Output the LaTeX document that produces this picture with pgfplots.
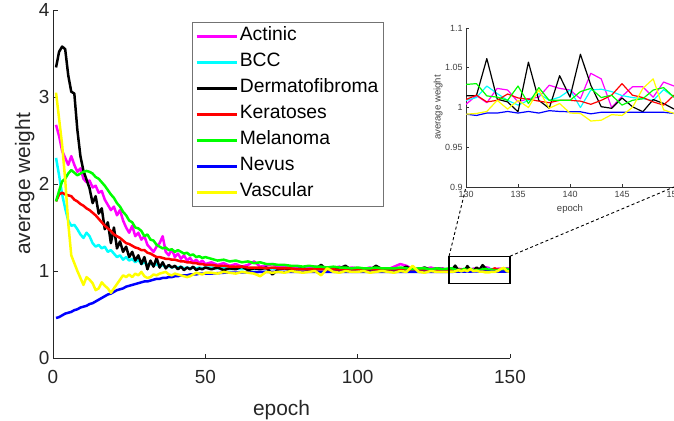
\documentclass[border=0pt]{standalone}
\usepackage{fontspec}
\setmainfont{Liberation Sans}
\usepackage{pgfplots}
\usepackage{pgfplotstable}
\pgfplotsset{compat=1.18}
\definecolor{axgray}{RGB}{38,38,38}
\definecolor{cMag}{RGB}{255,0,255}
\definecolor{cCya}{RGB}{0,255,255}
\definecolor{cBlk}{RGB}{0,0,0}
\definecolor{cRed}{RGB}{255,0,0}
\definecolor{cGrn}{RGB}{0,255,0}
\definecolor{cBlu}{RGB}{0,0,255}
\definecolor{cYel}{RGB}{255,255,0}

\pgfplotstableread{
ep act bcc der ker mel nev vas
1 2.68 2.30 3.34 1.80 1.80 0.46 3.05
2 2.55 2.10 3.52 1.88 1.92 0.47 2.75
3 2.38 1.88 3.58 1.90 2.03 0.49 2.45
4 2.30 1.72 3.55 1.88 2.06 0.51 2.05
5 2.22 1.58 3.25 1.87 2.12 0.52 1.55
6 2.32 1.52 3.06 1.86 2.16 0.53 1.18
7 2.22 1.53 3.04 1.82 2.13 0.55 1.09
8 2.14 1.48 2.62 1.80 2.10 0.56 1.00
9 2.18 1.42 2.32 1.77 2.12 0.58 0.92
10 2.06 1.38 2.15 1.75 2.14 0.59 0.84
11 2.02 1.44 2.05 1.72 2.15 0.60 0.93
12 2.04 1.40 1.95 1.70 2.14 0.62 0.90
13 1.96 1.32 1.78 1.67 2.12 0.63 0.86
14 1.98 1.28 1.86 1.64 2.08 0.65 0.78
15 1.90 1.30 1.66 1.60 2.06 0.67 0.80
16 1.92 1.26 1.72 1.56 2.02 0.69 0.87
17 1.82 1.28 1.48 1.52 1.98 0.71 0.83
18 1.76 1.22 1.56 1.49 1.93 0.73 0.80
19 1.70 1.24 1.32 1.46 1.88 0.74 0.75
20 1.74 1.20 1.50 1.42 1.84 0.76 0.80
21 1.64 1.16 1.26 1.40 1.78 0.78 0.85
22 1.70 1.18 1.34 1.38 1.74 0.79 0.90
23 1.58 1.13 1.22 1.35 1.68 0.80 0.95
24 1.50 1.16 1.28 1.32 1.64 0.82 0.93
25 1.44 1.12 1.16 1.31 1.58 0.83 0.96
26 1.52 1.14 1.22 1.29 1.56 0.84 0.93
27 1.40 1.10 1.12 1.27 1.50 0.85 0.97
28 1.44 1.13 1.18 1.26 1.49 0.86 0.95
29 1.36 1.08 1.08 1.24 1.46 0.87 0.99
30 1.40 1.10 1.16 1.24 1.40 0.88 0.94
31 1.30 1.07 1.02 1.21 1.42 0.88 0.92
32 1.26 1.09 1.12 1.20 1.36 0.89 0.93
33 1.22 1.06 1.05 1.18 1.35 0.90 0.96
34 1.28 1.08 1.15 1.16 1.30 0.91 0.95
35 1.32 1.05 1.04 1.16 1.28 0.91 0.97
36 1.40 1.07 1.10 1.15 1.26 0.92 0.98
37 1.22 1.04 1.03 1.14 1.27 0.92 0.99
38 1.18 1.06 1.07 1.14 1.24 0.93 0.96
39 1.25 1.04 1.04 1.13 1.25 0.93 0.95
40 1.16 1.05 1.06 1.13 1.22 0.94 0.97
41 1.20 1.04 1.02 1.12 1.24 0.94 0.96
42 1.14 1.05 1.05 1.11 1.22 0.95 0.95
43 1.18 1.03 1.01 1.11 1.20 0.95 0.94
44 1.12 1.04 1.04 1.10 1.21 0.95 0.93
45 1.15 1.03 1.02 1.10 1.18 0.96 0.94
46 1.10 1.04 1.05 1.09 1.19 0.96 0.96
47 1.13 1.03 1.01 1.09 1.16 0.96 0.98
48 1.09 1.04 1.03 1.08 1.17 0.97 0.97
49 1.12 1.03 1.02 1.08 1.15 0.97 0.96
50 1.08 1.04 1.04 1.07 1.16 0.97 0.98
52 1.10 1.04 1.02 1.07 1.14 0.97 0.98
54 1.07 1.03 1.04 1.06 1.12 0.975 0.97
56 1.09 1.04 1.01 1.06 1.13 0.98 0.99
58 1.06 1.02 1.03 1.05 1.11 0.98 0.98
60 1.08 1.03 1.02 1.05 1.12 0.98 0.97
62 1.05 1.02 1.05 1.05 1.10 0.985 0.99
64 1.07 1.03 1.01 1.04 1.11 0.985 0.98
66 1.11 1.02 1.03 1.04 1.09 0.985 0.97
68 1.05 1.03 1.02 1.04 1.10 0.99 0.94
70 1.06 1.02 1.04 1.03 1.08 0.99 0.99
72 1.08 1.03 0.96 1.04 1.08 0.99 0.98
74 1.04 1.02 1.02 1.03 1.07 0.99 0.99
76 1.05 1.03 1.03 1.03 1.07 0.99 0.98
78 1.03 1.02 1.01 1.03 1.06 0.99 1.00
80 1.05 1.02 1.02 1.02 1.06 0.99 0.99
82 1.04 1.03 1.03 1.02 1.05 0.99 0.98
84 1.03 1.02 1.01 1.02 1.06 0.99 0.99
86 1.05 1.02 1.02 1.02 1.05 0.99 1.00
88 1.03 1.03 1.07 1.02 1.05 0.99 0.95
90 1.04 1.02 1.01 1.02 1.04 0.99 1.03
92 1.03 1.02 1.02 1.02 1.05 0.99 0.99
94 1.05 1.03 1.03 1.01 1.04 0.99 0.98
96 1.02 1.02 1.06 1.02 1.04 0.99 1.00
98 1.04 1.02 1.01 1.01 1.03 0.99 0.99
100 1.03 1.03 1.03 1.02 1.04 0.99 0.99
102 1.02 1.02 1.02 1.01 1.03 0.99 1.00
104 1.04 1.02 1.01 1.02 1.03 0.99 0.98
106 1.02 1.03 1.06 1.01 1.04 0.99 0.99
108 1.03 1.02 1.02 1.01 1.03 0.99 1.00
110 1.02 1.02 1.01 1.02 1.03 0.99 0.99
112 1.05 1.03 1.03 1.01 1.03 0.99 0.98
114 1.08 1.02 1.02 1.01 1.04 0.99 1.00
116 1.06 1.02 1.05 1.02 1.03 0.99 0.99
118 1.02 1.03 1.01 1.01 1.02 0.99 1.06
120 1.03 1.02 1.02 1.01 1.03 0.99 0.99
122 1.02 1.02 1.04 1.01 1.03 0.99 0.98
124 1.04 1.02 1.01 1.01 1.02 0.99 1.00
126 1.02 1.02 1.03 1.01 1.03 0.99 0.99
128 1.03 1.02 1.02 1.01 1.02 0.99 0.99
129 1.01 1.01 1.01 1.01 1.025 0.99 0.99
130 1.004 1.009 1.0146 1.010 1.029 0.9916 0.9916
131 1.015 1.0125 1.015 1.0155 1.030 0.990 0.9925
132 1.006 1.027 1.0615 1.007 1.0146 0.993 0.995
133 1.024 1.0175 1.0105 1.009 1.013 0.993 1.009
134 1.022 1.009 1.007 1.017 1.009 0.995 0.998
135 1.007 1.003 0.9946 1.012 1.027 0.993 1.009
136 1.011 1.009 1.057 1.0105 1.005 0.995 1.000
137 1.013 1.0175 1.009 1.008 1.025 0.993 1.022
138 1.028 1.009 0.999 1.006 1.009 0.996 0.999
139 1.024 1.013 1.040 1.009 1.009 0.995 1.005
140 1.022 1.022 1.013 1.009 1.009 0.9946 0.993
141 1.011 1.000 1.067 1.008 1.020 0.9946 0.9925
142 1.043 1.022 1.028 1.004 1.024 0.992 0.983
143 1.036 1.023 1.001 1.009 1.0125 0.994 0.984
144 1.000 1.020 0.999 1.0155 1.0155 0.994 0.991
145 1.014 1.015 1.012 1.030 1.003 0.994 0.990
146 1.026 1.0125 1.001 1.0155 1.009 0.994 1.000
147 1.026 1.011 0.9946 1.0125 1.011 0.994 1.024
148 1.013 1.009 1.010 1.007 1.022 0.994 1.036
149 1.032 1.0225 1.005 1.003 1.025 0.994 0.997
150 1.027 1.013 0.998 1.0155 1.013 0.9925 0.9925
}\data

\begin{document}
\begin{tikzpicture}
\useasboundingbox (0,0) rectangle (674bp,421bp);
\begin{axis}[
  name=main, at={(53bp,63bp)}, anchor=south west,
  scale only axis, width=457bp, height=348bp,
  xmin=0, xmax=150, ymin=0, ymax=4, clip=false,
  axis x line*=bottom, axis y line*=left,
  axis line style={axgray, line width=0.6bp, -},
  xtick={0,50,100,150}, ytick={0,1,2,3,4},
  tick align=inside, major tick length=4.5bp,
  tick style={axgray, line width=0.6bp},
  /pgf/number format/assume math mode=true,
  ticklabel style={font=\fontsize{19}{19}\selectfont, text=axgray},
  xticklabel style={yshift=-9bp},
  xlabel={epoch}, ylabel={average weight},
  label style={font=\fontsize{21}{21}\selectfont, text=axgray},
  xlabel style={at={(axis description cs:0.5,0)}, anchor=base, yshift=-57bp},
  ylabel style={at={(axis description cs:-0.0503,0.5)}, anchor=base},
  legend style={at={(0.304,0.9655)}, anchor=north west, draw=black!55,
    line width=0.8bp, fill=white, font=\fontsize{19.4}{19.4}\selectfont,
    inner xsep=3bp, inner ysep=1bp, row sep=0pt,
    nodes={inner xsep=2bp, inner ysep=0pt, text height=17bp, text depth=9bp}},
  legend cell align=left,
  legend image code/.code={\draw[#1] (0bp,0bp) -- (40bp,0bp);},
  every axis plot/.append style={line width=2.5bp, line join=round},
]
\addplot[cMag] table[x=ep, y=act] {\data};
\addplot[cCya] table[x=ep, y=bcc] {\data};
\addplot[cBlk] table[x=ep, y=der] {\data};
\addplot[cRed] table[x=ep, y=ker] {\data};
\addplot[cGrn] table[x=ep, y=mel] {\data};
\addplot[cBlu] table[x=ep, y=nev] {\data};
\addplot[cYel] table[x=ep, y=vas] {\data};
\legend{Actinic,BCC,Dermatofibroma,Keratoses,Melanoma,Nevus,Vascular}
\draw[black, line width=1.3bp] (axis cs:130,0.86) rectangle (axis cs:150,1.17);
\coordinate (rtl) at (axis cs:130,1.17);
\coordinate (rtr) at (axis cs:150,1.17);
\end{axis}

\begin{axis}[
  name=inset, at={(466bp,234bp)}, anchor=south west,
  scale only axis, width=208bp, height=159bp,
  xmin=130, xmax=150, ymin=0.9, ymax=1.1,
  axis x line*=bottom, axis y line*=left,
  axis line style={black!80, line width=0.6bp, -},
  xtick={130,135,140,145,150}, ytick={0.9,0.95,1,1.05,1.1},
  tick align=inside, major tick length=3bp,
  tick style={black!80, line width=0.5bp},
  /pgf/number format/assume math mode=true,
  ticklabel style={font=\fontsize{9}{9}\selectfont, text=black!75},
  xticklabel style={yshift=-1bp},
  xlabel={epoch}, ylabel={average weight},
  label style={font=\fontsize{9.6}{9.6}\selectfont, text=black!75},
  xlabel style={at={(axis description cs:0.5,0)}, anchor=base, yshift=-25bp},
  ylabel style={at={(axis description cs:-0.122,0.5)}, anchor=base},
  every axis plot/.append style={line width=1.2bp, line join=round},
]
\addplot[cMag] table[x=ep, y=act] {\data};
\addplot[cCya] table[x=ep, y=bcc] {\data};
\addplot[cBlk] table[x=ep, y=der] {\data};
\addplot[cRed] table[x=ep, y=ker] {\data};
\addplot[cGrn] table[x=ep, y=mel] {\data};
\addplot[cBlu] table[x=ep, y=nev] {\data};
\addplot[cYel] table[x=ep, y=vas] {\data};
\coordinate (ibl) at (rel axis cs:0,0);
\coordinate (ibr) at (rel axis cs:1,0);
\end{axis}
\draw[black, line width=0.9bp, dash pattern=on 3bp off 2.5bp] (rtl) -- (ibl);
\draw[black, line width=0.9bp, dash pattern=on 3bp off 2.5bp] (rtr) -- (ibr);
\end{tikzpicture}
\end{document}
